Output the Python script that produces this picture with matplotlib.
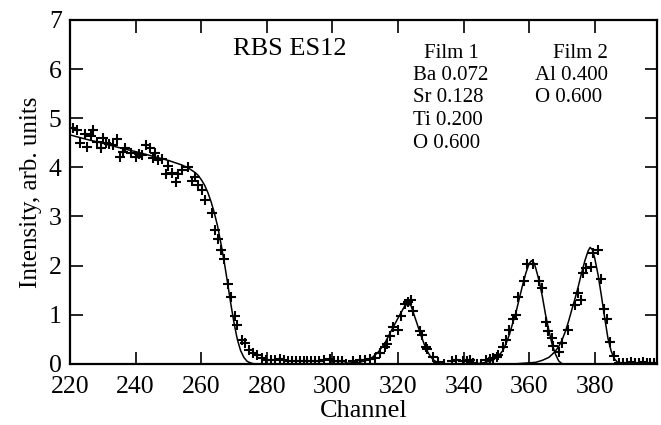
import matplotlib
matplotlib.use("Agg")
import matplotlib.pyplot as plt

plt.rcParams['font.family'] = ['Liberation Serif', 'DejaVu Serif']

# measured spectrum (channel, intensity)
data_ch = [220.8, 222.2, 223.0, 224.6, 225.3, 226.4, 227.1, 228.3, 229.4, 230.0,
           231.0, 232.0, 233.0, 234.2, 235.2, 236.1, 236.8, 238.5, 240.0, 241.1,
           241.9, 243.2, 244.4, 245.2, 245.9, 246.9, 247.9, 249.3, 250.0, 251.0,
           252.3, 253.0, 254.0, 255.9, 257.1, 258.1, 259.1, 260.3, 261.3, 263.2,
           264.2, 265.2, 266.0, 267.0, 268.3, 269.0, 270.3, 271.0, 272.3, 273.4,
           274.7, 275.9, 277.1, 278.4, 279.8, 281.2, 282.5, 284.0, 285.2, 286.4,
           287.6, 288.8, 290.0, 291.2, 292.4, 293.6, 294.8, 296.0, 297.4, 299.3,
           300.6, 301.8, 303.0, 304.3, 306.3, 308.3, 309.9, 311.4, 312.9, 314.5,
           316.0, 316.5, 317.6, 318.6, 319.9, 320.9, 322.1, 323.1, 324.0, 324.7,
           326.6, 327.3, 328.4, 328.7, 330.6, 332.3, 334.0, 336.4, 337.8, 339.8,
           341.0, 342.0, 343.0, 344.0, 345.3, 346.8, 348.0, 349.0, 350.1, 350.6,
           351.9, 352.9, 353.9, 355.0, 356.0, 356.7, 358.4, 359.2, 361.1, 363.1,
           363.8, 365.0, 365.8, 366.9, 367.4, 369.2, 369.9, 371.9, 374.0, 375.0,
           375.7, 376.5, 377.3, 379.0, 379.5, 380.9, 381.8, 382.8, 383.6, 384.6,
           385.9, 387.3, 388.6, 389.8, 391.0, 392.2, 393.4, 394.6, 395.8, 397.0,
           398.2]
data_int = [4.80, 4.76, 4.50, 4.68, 4.42, 4.64, 4.76, 4.52, 4.39, 4.59,
            4.49, 4.48, 4.46, 4.57, 4.22, 4.32, 4.39, 4.29, 4.22, 4.27,
            4.25, 4.45, 4.39, 4.18, 4.30, 4.15, 4.17, 3.87, 4.03, 3.88,
            3.71, 3.87, 3.95, 4.00, 3.72, 3.80, 3.64, 3.54, 3.34, 3.07,
            2.73, 2.54, 2.32, 2.13, 1.63, 1.37, 0.98, 0.78, 0.49, 0.42,
            0.28, 0.23, 0.18, 0.12, 0.08, 0.07, 0.08, 0.09, 0.07, 0.06,
            0.06, 0.05, 0.05, 0.06, 0.05, 0.05, 0.05, 0.05, 0.07, 0.10,
            0.05, 0.06, 0.05, 0.00, 0.05, 0.07, 0.08, 0.10, 0.12, 0.22,
            0.35, 0.40, 0.57, 0.75, 0.69, 0.98, 1.21, 1.25, 1.29, 1.08,
            0.67, 0.59, 0.35, 0.31, 0.14, 0.03, 0.00, 0.06, 0.08, 0.06,
            0.05, 0.08, 0.02, 0.00, 0.00, 0.08, 0.09, 0.12, 0.14, 0.18,
            0.34, 0.49, 0.68, 0.91, 1.00, 1.36, 1.69, 2.03, 2.03, 1.68,
            1.55, 0.86, 0.66, 0.52, 0.37, 0.24, 0.43, 0.69, 1.20, 1.44,
            1.29, 1.85, 1.95, 1.98, 2.25, 2.32, 1.72, 1.11, 0.91, 0.44,
            0.15, 0.02, 0.02, 0.02, 0.03, 0.02, 0.02, 0.03, 0.02, 0.02,
            0.02]

# simulated spectrum: substrate edge + film 1 peaks
fit1_ch = [220, 225, 230, 235, 240, 245, 250, 254, 256, 258, 259, 260, 261, 262,
           263, 264, 265, 266, 267, 268, 269, 270, 271, 272, 273, 274, 275, 276,
           300, 304, 306, 308, 310, 312, 314, 316, 318, 320, 321, 322, 323, 324,
           325, 326, 327, 328, 329, 330, 331, 332, 333, 334, 344, 346, 348, 349,
           350, 351, 352, 353, 354, 355, 356, 357, 358, 359, 360, 360.7, 361.5,
           362, 363, 364, 365, 366, 367, 368, 369, 370]
fit1_int = [4.66, 4.57, 4.49, 4.40, 4.32, 4.23, 4.14, 4.05, 3.99, 3.90, 3.84, 3.75,
            3.64, 3.49, 3.30, 3.07, 2.80, 2.45, 2.08, 1.66, 1.23, 0.83, 0.50, 0.27,
            0.13, 0.05, 0.02, 0.00, 0.00, 0.01, 0.02, 0.03, 0.06, 0.12, 0.24, 0.42,
            0.68, 0.93, 1.05, 1.17, 1.23, 1.18, 0.98, 0.78, 0.58, 0.40, 0.25, 0.14,
            0.07, 0.03, 0.01, 0.00, 0.00, 0.02, 0.05, 0.08, 0.13, 0.19, 0.27, 0.42,
            0.60, 0.83, 1.05, 1.33, 1.60, 1.85, 2.04, 2.10, 2.05, 1.95, 1.70, 1.38,
            1.00, 0.68, 0.40, 0.20, 0.06, 0.00]

# simulated film 2 peak
fit2_ch = [356, 358, 360, 362, 364, 366, 367, 368, 369, 370, 371, 372, 373, 374,
           375, 376, 377, 378, 378.6, 379.3, 380, 381, 382, 383, 384, 385, 386,
           387, 388, 399]
fit2_int = [0.00, 0.01, 0.02, 0.03, 0.07, 0.13, 0.19, 0.26, 0.35, 0.48, 0.65, 0.86,
            1.10, 1.33, 1.58, 1.85, 2.10, 2.30, 2.37, 2.32, 2.15, 1.82, 1.40, 0.95,
            0.53, 0.26, 0.10, 0.03, 0.00, 0.00]

fig = plt.figure(figsize=(6.61, 4.25), dpi=100)
ax = fig.add_axes([0.106, 0.144, 0.888, 0.809])

ax.plot(fit1_ch, fit1_int, color='black', lw=1.1)
ax.plot(fit2_ch, fit2_int, color='black', lw=1.1)
ax.plot(data_ch, data_int, ls='none', marker='+', ms=7, mew=1.5, color='black')

ax.set_xlim(220, 399)
ax.set_ylim(0, 7)
ax.set_xticks(range(220, 381, 20))
ax.set_yticks(range(0, 8))
ax.tick_params(direction='in', length=9, width=1.2, labelsize=18.5,
               top=True, right=True)
ax.tick_params(axis='x', pad=9)
ax.tick_params(axis='y', pad=6)
for s in ax.spines.values():
    s.set_linewidth(1.6)

ax.set_xlabel('Channel', fontsize=19, labelpad=1)
ax.set_ylabel('Intensity, arb. units', fontsize=18, labelpad=5)

ax.text(269.7, 6.29, 'RBS ES12', fontsize=19)
ax.text(336.2, 6.23, 'Film 1', fontsize=15, ha='center')
ax.text(324.6, 5.78, 'Ba 0.072', fontsize=15)
ax.text(324.6, 5.32, 'Sr 0.128', fontsize=15)
ax.text(324.6, 4.86, 'Ti 0.200', fontsize=15)
ax.text(324.6, 4.40, 'O 0.600', fontsize=15)
ax.text(375.5, 6.23, 'Film 2', fontsize=15, ha='center')
ax.text(361.8, 5.78, 'Al 0.400', fontsize=15)
ax.text(361.8, 5.32, 'O 0.600', fontsize=15)

fig.savefig('out.png', dpi=100)
